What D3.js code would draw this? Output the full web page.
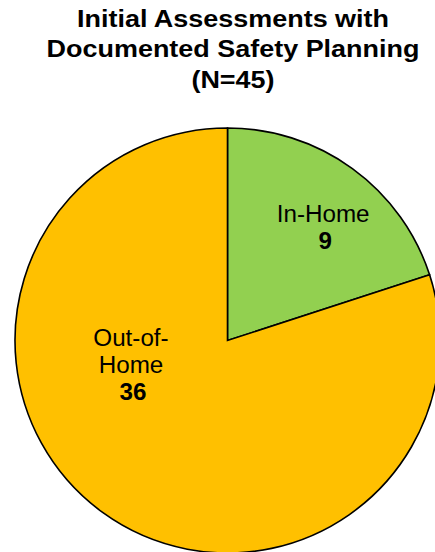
<!DOCTYPE html>
<html>
<head>
<meta charset="utf-8">
<script src="https://cdn.jsdelivr.net/npm/d3@7"></script>
<style>
  html, body { margin: 0; padding: 0; background: #fff; }
  svg { display: block; }
</style>
</head>
<body>
<svg id="chart" width="435" height="552"></svg>
<script>
const titleLines = ["Initial Assessments with", "Documented Safety Planning", "(N=45)"];
const categories = ["In-Home", "Out-of-Home"];
const values = [9, 36];
const labelLines = [["In-Home"], ["Out-of-", "Home"]];
const colors = ["#92D050", "#FFC000"];

const W = 435, H = 552;
const cx = 227.5, cy = 340.5, R = 212.5;
const svg = d3.select("#chart");
const font = "'Liberation Sans', Arial, sans-serif";

// Title (slightly widened to match reference rendering)
const titleX = 233;
const title = svg.append("text")
  .attr("text-anchor", "middle")
  .attr("font-family", font)
  .attr("font-weight", "bold")
  .attr("font-size", 24.5)
  .attr("fill", "#000")
  .attr("transform", `translate(${titleX},0) scale(1.1,1)`);
titleLines.forEach((t, i) => {
  title.append("tspan").attr("x", 0).attr("y", 27 + i * 30.5).text(t);
});

const data = categories.map((c, i) => ({ cat: c, value: values[i], lines: labelLines[i], color: colors[i] }));
const pie = d3.pie().value(d => d.value).sort(null);
const arc = d3.arc().innerRadius(0).outerRadius(R);
const arcs = pie(data);

const g = svg.append("g").attr("transform", `translate(${cx},${cy})`);
g.selectAll("path").data(arcs).join("path")
  .attr("d", arc)
  .attr("fill", d => d.data.color)
  .attr("stroke", "#000")
  .attr("stroke-width", 1.6)
  .attr("stroke-linejoin", "miter");

// label placement (angle from 12 o'clock clockwise, radius fraction)
const labelPlace = [{ a: 39.0, r: 0.715 }, { a: 266.8, r: 0.455 }];
const lineH = 27;
arcs.forEach((d, i) => {
  const p = labelPlace[i];
  const th = p.a * Math.PI / 180;
  const x = Math.sin(th) * p.r * R;
  const y = -Math.cos(th) * p.r * R;
  const t = g.append("text")
    .attr("text-anchor", "middle")
    .attr("font-family", font)
    .attr("font-size", 23.5)
    .attr("fill", "#000")
    .attr("transform", `translate(${x},${y}) scale(1.03,1)`);
  d.data.lines.forEach((ln, k) => {
    t.append("tspan").attr("x", 0).attr("y", k * lineH).text(ln);
  });
  t.append("tspan").attr("x", 2).attr("y", d.data.lines.length * lineH)
    .attr("font-weight", "bold").text(d.data.value);
});
</script>
</body>
</html>
